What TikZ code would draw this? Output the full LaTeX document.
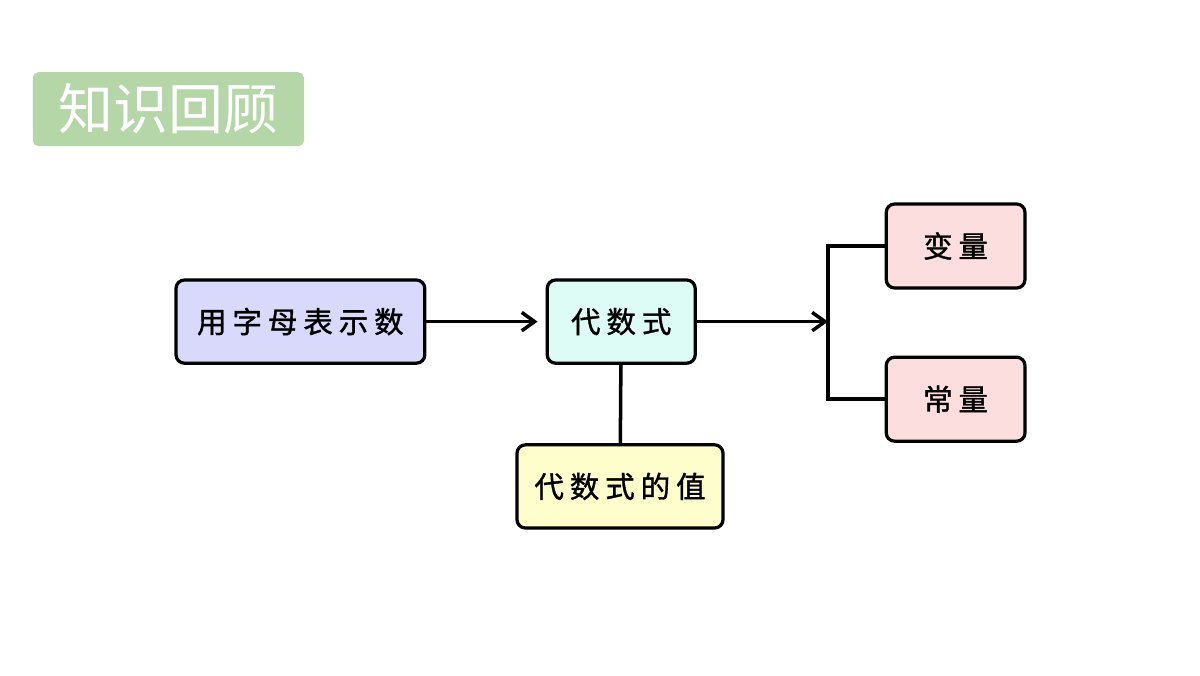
\documentclass[tikz,border=0pt]{standalone}
\usepackage{fontspec}
\usepackage{xcolor}
\usetikzlibrary{arrows.meta,positioning}
\newfontfamily\cjkfont{Noto Sans CJK SC}
\newfontfamily\cjkbox[LetterSpace=20,FakeBold=1.2]{Noto Sans CJK SC}
\definecolor{titlegreen}{HTML}{B5D6A7}
\definecolor{lavender}{HTML}{D9D9FB}
\definecolor{mint}{HTML}{DCFCF5}
\definecolor{paleyellow}{HTML}{FEFECC}
\definecolor{palepink}{HTML}{FCDEDE}

\begin{document}
\begin{tikzpicture}[
  box/.style={draw=black, line width=2.3pt, rounded corners=6pt, inner sep=0pt, minimum height=2.08cm, font=\cjkbox\fontsize{21}{25}\selectfont},
  edge/.style={line width=2.5pt, draw=black},
  arr/.style={edge, -{Straight Barb[length=3.2mm,width=4.6mm,line width=2.5pt]}}
]
\useasboundingbox (0,0) rectangle (30,-16.875);

\node[fill=titlegreen, rounded corners=4pt, inner sep=0pt, minimum width=6.78cm, minimum height=1.85cm,
      text=white, font=\cjkfont\fontsize{39}{45}\selectfont] (title) at (4.21,-2.73) {知识回顾};

\node[box, fill=lavender, minimum width=6.22cm] (letters) at (7.51,-8.04) {用字母表示数};
\node[box, fill=mint, minimum width=3.70cm] (expr) at (15.53,-8.04) {代数式};
\node[box, fill=paleyellow, minimum width=5.15cm] (value) at (15.50,-12.16) {代数式的值};
\node[box, fill=palepink, minimum width=3.47cm, minimum height=2.1cm] (var) at (23.89,-6.15) {变量};
\node[box, fill=palepink, minimum width=3.47cm, minimum height=2.1cm] (const) at (23.89,-9.98) {常量};

\coordinate (fork) at (20.70,-8.04);

\draw[arr, shorten >=2mm] (letters)--(expr);
\draw[arr] (expr)--(fork);
\draw[edge] (var.west) -| (fork) |- (const.west);
\draw[edge] (expr)--(value);
\end{tikzpicture}
\end{document}
